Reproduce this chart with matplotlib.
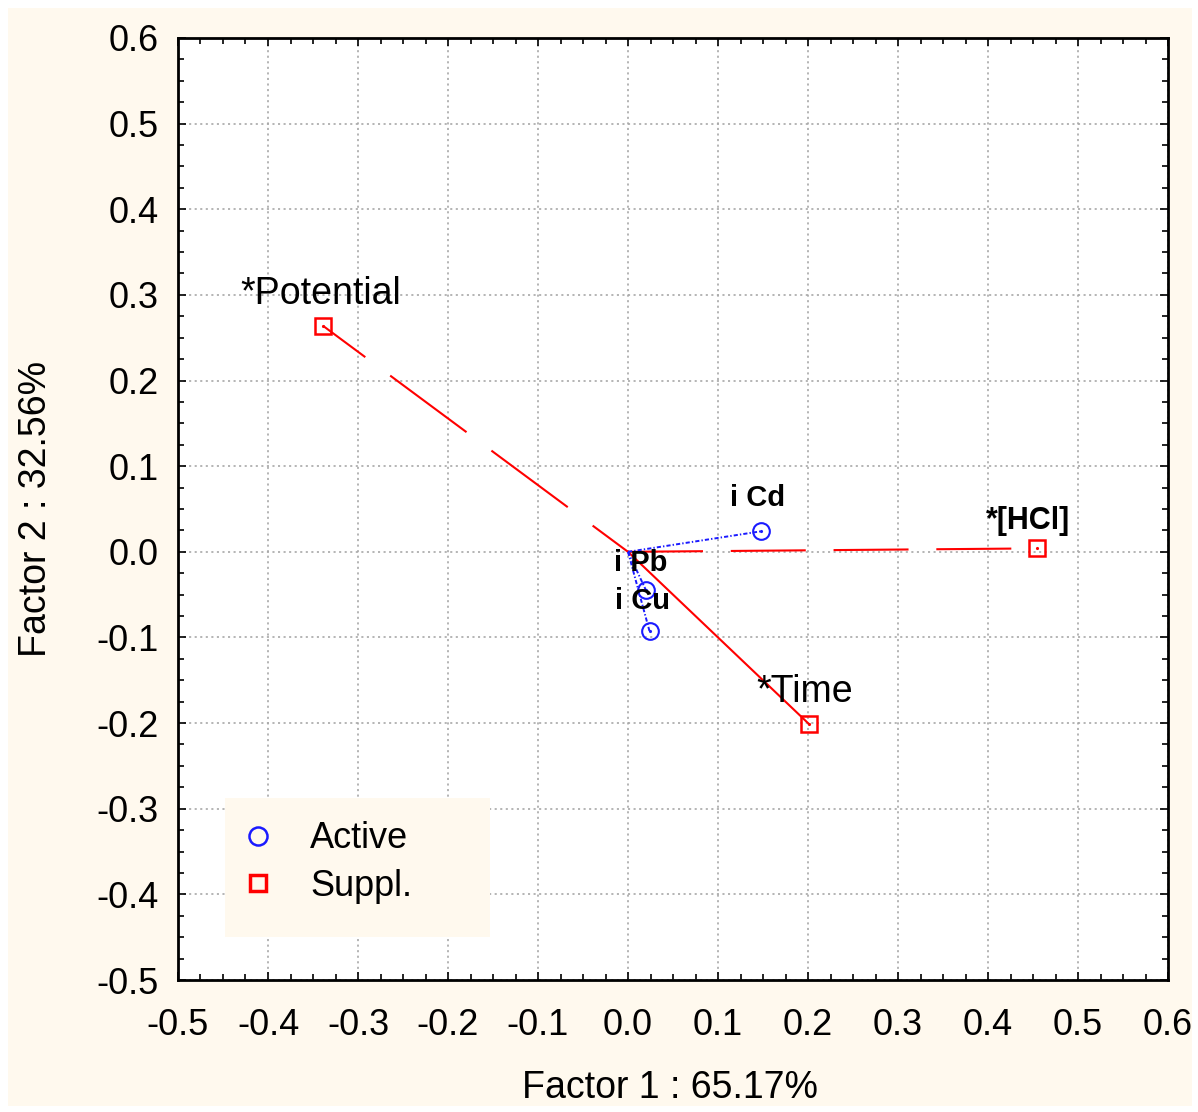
"""
Factor loadings plot (Factor 1 vs Factor 2), active and supplementary variables.
"""
import matplotlib
matplotlib.use("Agg")
import matplotlib.pyplot as plt
from matplotlib.patches import Rectangle
from matplotlib.ticker import MultipleLocator
from matplotlib.lines import Line2D

# ---------------------------------------------------------------------------
# Data
# ---------------------------------------------------------------------------
active_names = ["i Cd", "i Pb", "i Cu"]
active_x = [0.148, 0.020, 0.024]
active_y = [0.024, -0.045, -0.093]

suppl_names = ["*Potential", "*[HCl]", "*Time"]
suppl_x = [-0.339, 0.454, 0.201]
suppl_y = [0.264, 0.004, -0.201]

x_label = "Factor 1 : 65.17%"
y_label = "Factor 2 : 32.56%"

# ---------------------------------------------------------------------------
# Style
# ---------------------------------------------------------------------------
plt.rcParams["font.family"] = ["Liberation Sans", "DejaVu Sans"]
plt.rcParams["lines.scale_dashes"] = False

CREAM = "#fff9ee"
BLUE = "#1a1aff"
RED = "#ff0000"

fig = plt.figure(figsize=(11.98, 11.12), dpi=100, facecolor="white")
fig.patches.append(Rectangle((8 / 1198, 6 / 1112), 1184 / 1198, 1098 / 1112,
                             transform=fig.transFigure, facecolor=CREAM,
                             edgecolor="none", zorder=-10))
ax = fig.add_axes([178 / 1198, 132 / 1112, 990 / 1198, 942 / 1112])
ax.set_facecolor("white")

# lines from the origin
red_dashes = [(36.7, (68.4, 22.3)), (0, (54, 20)), None]
for x, y, dash in zip(suppl_x, suppl_y, red_dashes):
    if dash is None:
        ax.plot([0, x], [0, y], color=RED, lw=1.5, zorder=3)
    else:
        ax.plot([0, x], [0, y], color=RED, lw=1.5, linestyle=dash, zorder=3)
for x, y in zip(active_x, active_y):
    ax.plot([0, x], [0, y], color=BLUE, lw=1.4, linestyle=(0, (3, 1.5, 1, 1.5)), zorder=3)

# markers
ax.plot(active_x, active_y, "o", ms=12, mfc="none", mec=BLUE, mew=1.5, zorder=4)
ax.plot(suppl_x, suppl_y, "s", ms=12, mfc="none", mec=RED, mew=1.8, zorder=4)
ax.plot(active_x, active_y, ".", ms=2.5, color=BLUE, zorder=4)
ax.plot(suppl_x, suppl_y, ".", ms=2.5, color=RED, zorder=4)

# point labels (offsets in pixels)
suppl_offsets = [(-83, 32), (-9, 27), (-4, 32)]
suppl_bold = [False, True, False]
for name, x, y, off, bold in zip(suppl_names, suppl_x, suppl_y, suppl_offsets, suppl_bold):
    if bold:
        ax.annotate(name, (x, y), xytext=off, textcoords="offset pixels",
                    ha="center", va="center", fontsize=22, fontweight="bold",
                    zorder=5)
    else:
        ax.annotate(name, (x, y), xytext=off, textcoords="offset pixels",
                    ha="left" if off[0] < -50 else "center", va="center",
                    fontsize=27, zorder=5)

active_offsets = [(-4, 33), (-5, 27), (-7, 30)]
for name, x, y, off in zip(active_names, active_x, active_y, active_offsets):
    ax.annotate(name, (x, y), xytext=off, textcoords="offset pixels",
                ha="center", va="center", fontsize=21, fontweight="bold", zorder=5)

# axes
ax.set_xlim(-0.5, 0.6)
ax.set_ylim(-0.5, 0.6)
ax.xaxis.set_major_locator(MultipleLocator(0.1))
ax.yaxis.set_major_locator(MultipleLocator(0.1))
ax.xaxis.set_minor_locator(MultipleLocator(0.025))
ax.yaxis.set_minor_locator(MultipleLocator(0.025))
ax.xaxis.set_major_formatter(plt.FormatStrFormatter("%.1f"))
ax.yaxis.set_major_formatter(plt.FormatStrFormatter("%.1f"))
ax.tick_params(which="both", direction="in", top=True, right=True,
               width=1.2, labelsize=26)
ax.tick_params(axis="x", pad=20)
ax.tick_params(axis="y", pad=14)
ax.tick_params(which="major", length=6)
ax.tick_params(which="minor", length=4)
for sp in ax.spines.values():
    sp.set_linewidth(2)
ax.grid(True, which="major", color="#a8a8a8", linestyle=(0, (1.5, 2.5)), lw=1.2)
ax.set_axisbelow(True)

ax.set_xlabel(x_label, fontsize=27)
ax.set_ylabel(y_label, fontsize=27)
ax.xaxis.set_label_coords(0.497, -0.0955)
ax.yaxis.set_label_coords(-0.125, 0.5)

# legend: cream box plus frameless legend
ax.add_patch(Rectangle((0.0475, 0.0456), 0.2677, 0.1476, transform=ax.transAxes,
                       facecolor=CREAM, edgecolor="none", zorder=5))
handles = [
    Line2D([], [], marker="o", ls="none", ms=13, mfc="none", mec=BLUE, mew=1.8),
    Line2D([], [], marker="s", ls="none", ms=11, mfc="none", mec=RED, mew=2.5),
]
leg = ax.legend(handles, ["Active", "Suppl."], loc="upper left",
                bbox_to_anchor=(0.064, 0.1686), fontsize=26, frameon=False,
                borderpad=0, labelspacing=0.35, handletextpad=1.0,
                handlelength=0.9, borderaxespad=0)
leg.set_zorder(6)

fig.savefig("out.png", dpi=100, facecolor="white")
